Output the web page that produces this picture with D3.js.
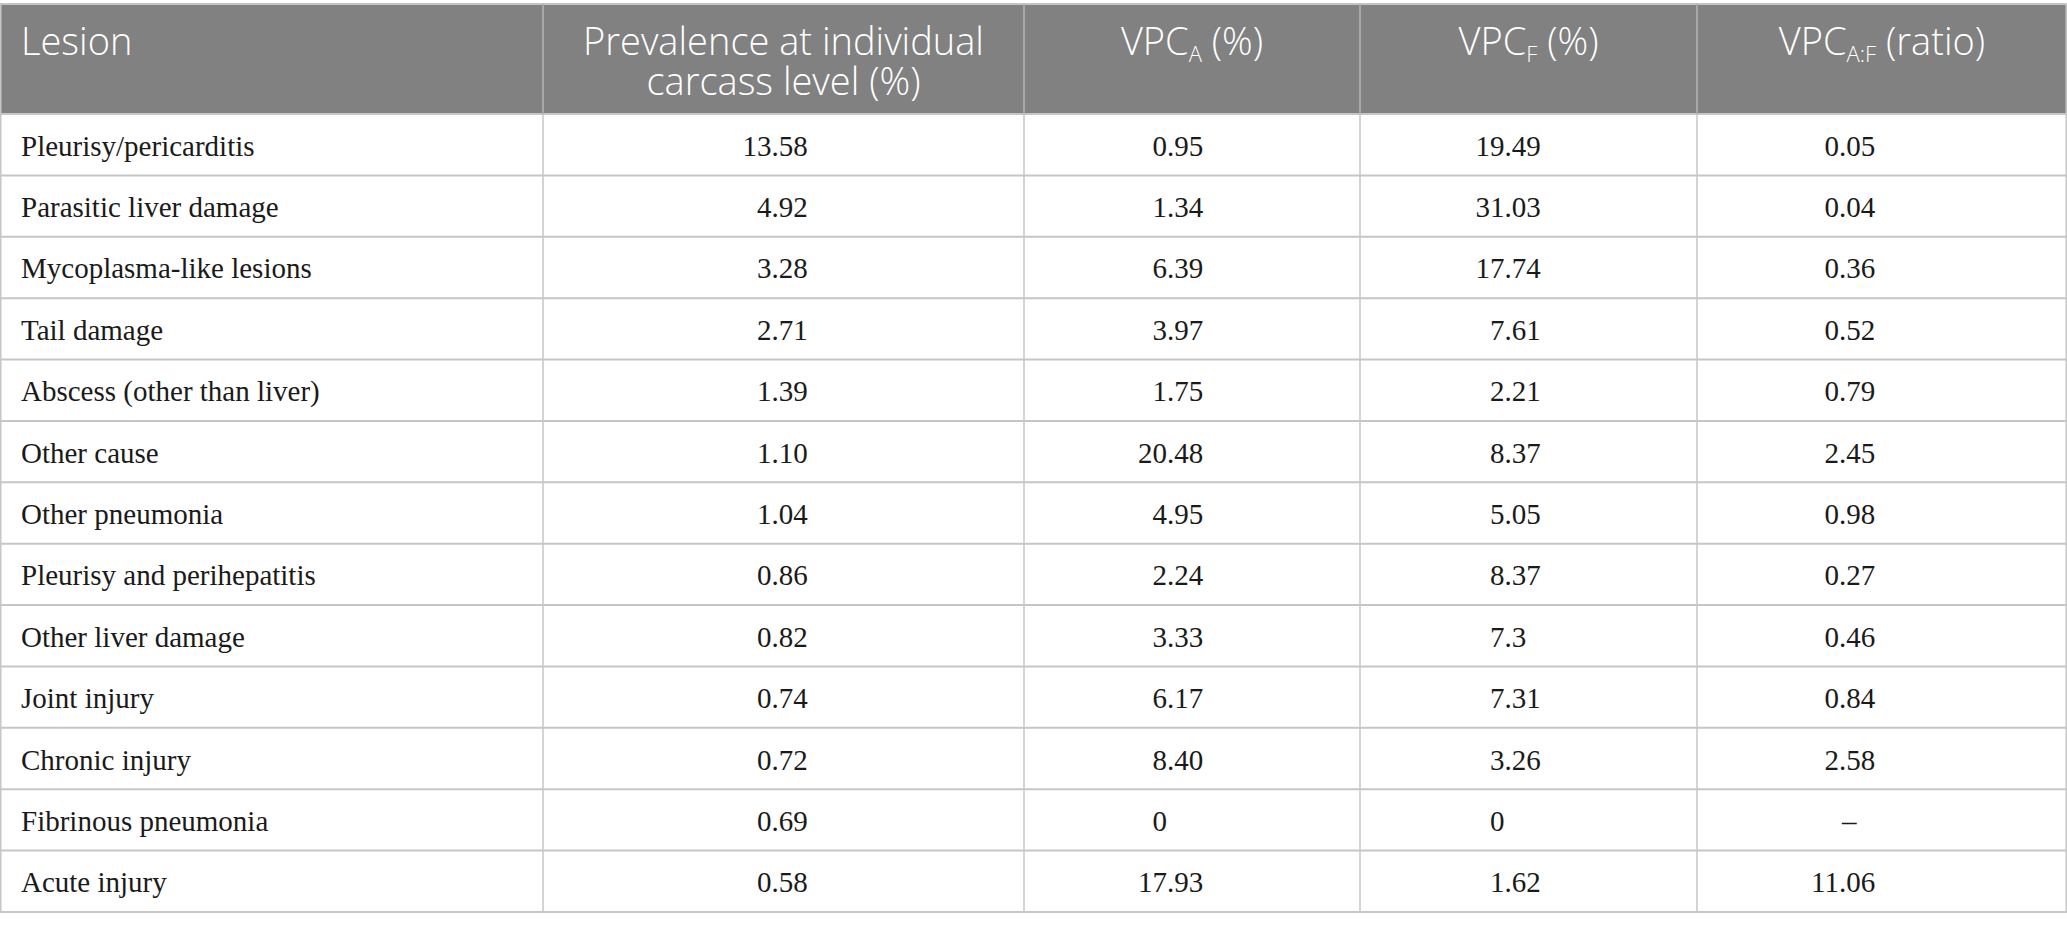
<!DOCTYPE html>
<html>
<head>
<meta charset="utf-8">
<script src="https://cdn.jsdelivr.net/npm/d3@7"></script>
<style>
  html, body { margin: 0; padding: 0; background: #fff; }
  svg { display: block; }
</style>
</head>
<body>
<div id="chart"></div>
<script>
// Table content
const lesions = [
  "Pleurisy/pericarditis", "Parasitic liver damage", "Mycoplasma-like lesions",
  "Tail damage", "Abscess (other than liver)", "Other cause", "Other pneumonia",
  "Pleurisy and perihepatitis", "Other liver damage", "Joint injury",
  "Chronic injury", "Fibrinous pneumonia", "Acute injury"
]
const prevalence = ["13.58", "4.92", "3.28", "2.71", "1.39", "1.10", "1.04", "0.86", "0.82", "0.74", "0.72", "0.69", "0.58"]
const vpcA = ["0.95", "1.34", "6.39", "3.97", "1.75", "20.48", "4.95", "2.24", "3.33", "6.17", "8.40", "0", "17.93"]
const vpcF = ["19.49", "31.03", "17.74", "7.61", "2.21", "8.37", "5.05", "8.37", "7.3", "7.31", "3.26", "0", "1.62"]
const vpcRatio = ["0.05", "0.04", "0.36", "0.52", "0.79", "2.45", "0.98", "0.27", "0.46", "0.84", "2.58", "–", "11.06"]

// header labels: lines of segments, sub = subscript
const headers = [
  [[{ t: "Lesion" }]],
  [[{ t: "Prevalence at individual" }], [{ t: "carcass level (%)" }]],
  [[{ t: "VPC" }, { t: "A", sub: true }, { t: " (%)" }]],
  [[{ t: "VPC" }, { t: "F", sub: true }, { t: " (%)" }]],
  [[{ t: "VPC" }, { t: "A:F", sub: true }, { t: " (ratio)" }]]
]

const numericCols = [prevalence, vpcA, vpcF, vpcRatio]

// layout
const width = 2067
const height = 928
const colEdges = [0, 543, 1024, 1360, 1697, 2067]
const headTop = 4
const headBottom = 114
const tableBottom = 912
// decimal point offsets from column centre
const decimalShift = [-12, -25, -24, -43]

const headFont = "'Open Sans', Lato, sans-serif"
const bodyFont = "'Liberation Serif', 'Times New Roman', serif"

const svg = d3.select("#chart")
  .append("svg")
  .attr("width", width)
  .attr("height", height)

svg.append("rect")
  .attr("width", width)
  .attr("height", height)
  .attr("fill", "#fff")

const y = d3.scaleBand()
  .domain(lesions)
  .range([headBottom, tableBottom])

const colCenter = i => (colEdges[i] + colEdges[i + 1]) / 2

// --- header band ---
svg.append("rect")
  .attr("x", 0)
  .attr("y", headTop)
  .attr("width", width)
  .attr("height", headBottom - headTop)
  .attr("fill", "#808180")

svg.append("line")
  .attr("x1", 0).attr("x2", width)
  .attr("y1", headTop).attr("y2", headTop)
  .attr("stroke", "#c4c4c4")
  .attr("stroke-width", 2)

headers.forEach((lines, i) => {
  const hx = i === 0 ? 21 : colCenter(i)
  const txt = svg.append("text")
    .attr("x", hx)
    .attr("y", 55)
    .attr("text-anchor", i === 0 ? "start" : "middle")
    .attr("fill", "#fff")
    .style("font-family", headFont)
    .style("font-weight", 300)
    .style("font-size", "38px")
  lines.forEach((segs, li) => {
    segs.forEach((s, si) => {
      const ts = txt.append("tspan").text(s.t)
      if (si === 0 && li > 0) ts.attr("x", hx).attr("dy", 40)
      if (s.sub) ts.style("font-size", "22px").attr("dy", 7)
      else if (si > 0) ts.attr("dy", -7)
    })
  })
})

// --- grid lines ---
const rowLines = lesions.map(d => y(d) + y.bandwidth()).concat([headBottom])
svg.selectAll("line.row")
  .data(rowLines)
  .join("line")
  .attr("class", "row")
  .attr("x1", 0).attr("x2", width)
  .attr("y1", d => d).attr("y2", d => d)
  .attr("stroke", "#c6c6c6")
  .attr("stroke-width", 2)

svg.selectAll("line.col")
  .data(colEdges)
  .join("line")
  .attr("class", "col")
  .attr("x1", d => Math.min(Math.max(d, 0.75), width - 0.75))
  .attr("x2", d => Math.min(Math.max(d, 0.75), width - 0.75))
  .attr("y1", headTop)
  .attr("y2", tableBottom)
  .attr("stroke", "#c6c6c6")
  .attr("stroke-width", 1.5)

// header dividers are a touch lighter than the band
svg.selectAll("line.hcol")
  .data(colEdges.slice(1, -1))
  .join("line")
  .attr("class", "hcol")
  .attr("x1", d => d).attr("x2", d => d)
  .attr("y1", headTop).attr("y2", headBottom)
  .attr("stroke", "#a3a3a3")
  .attr("stroke-width", 1.5)

// --- body ---
const baseline = d => y(d) + y.bandwidth() / 2 + 11

svg.selectAll("text.lesion")
  .data(lesions)
  .join("text")
  .attr("class", "lesion")
  .attr("x", 21)
  .attr("y", baseline)
  .attr("fill", "#1a1a1a")
  .style("font-family", bodyFont)
  .style("font-size", "29px")
  .text(d => d)

// numbers aligned on the decimal point
numericCols.forEach((vals, ci) => {
  const ax = colCenter(ci + 1) + decimalShift[ci]
  const g = svg.append("g")
    .style("font-family", bodyFont)
    .style("font-size", "29px")
    .attr("fill", "#1a1a1a")

  vals.forEach((v, ri) => {
    const yy = baseline(lesions[ri])
    if (isNaN(parseFloat(v))) {
      g.append("text").attr("x", ax + 3).attr("y", yy).text(v)
      return
    }
    const [intPart, frac] = v.split(".")
    g.append("text")
      .attr("x", ax).attr("y", yy)
      .attr("text-anchor", "end")
      .text(intPart)
    if (frac !== undefined) {
      g.append("text")
        .attr("x", ax).attr("y", yy)
        .text("." + frac)
    }
  })
})
</script>
</body>
</html>
